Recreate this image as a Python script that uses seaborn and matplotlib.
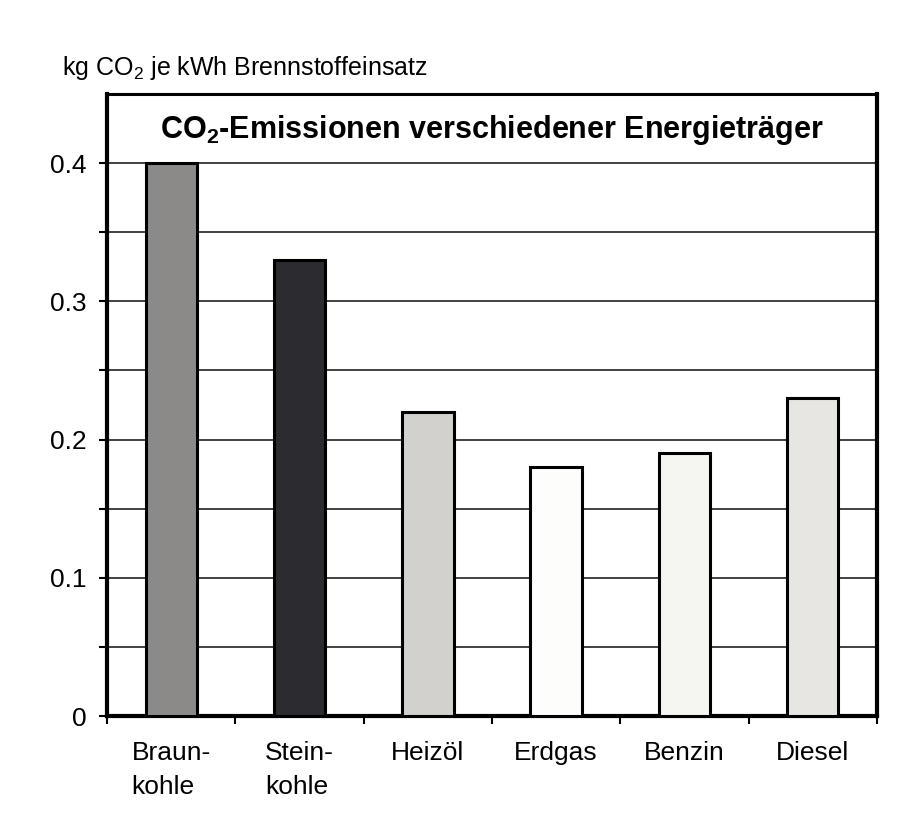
import matplotlib
matplotlib.use("Agg")
import matplotlib.pyplot as plt
import seaborn as sns
import pandas as pd
import numpy as np

categories = ["Braun-\nkohle", "Stein-\nkohle", "Heizöl", "Erdgas", "Benzin", "Diesel"]
values = [0.40, 0.33, 0.22, 0.18, 0.19, 0.23]
bar_colors = ["#8c8a89", "#2b2b30", "#d3d1ce", "#fdfdfc", "#f5f5f2", "#e8e6e3"]
y_ticks = [0, 0.1, 0.2, 0.3, 0.4]
y_tick_labels = ["0", "0.1", "0.2", "0.3", "0.4"]
title = r"CO$_\mathbf{2}$-Emissionen verschiedener Energieträger"
ylabel = r"kg CO$_2$ je kWh Brennstoffeinsatz"

sns.set_theme(style="white")
fam = "Liberation Sans"
plt.rcParams["font.family"] = [fam, "DejaVu Sans"]
plt.rcParams["mathtext.fontset"] = "custom"
plt.rcParams["mathtext.rm"] = fam
plt.rcParams["mathtext.it"] = fam
plt.rcParams["mathtext.bf"] = fam + ":bold"

df = pd.DataFrame({"cat": categories, "val": values})

fig = plt.figure(figsize=(9.1, 8.35), dpi=100)
ax = fig.add_axes([107/910, 1-716/835, (877-107)/910, (716-94)/835])

sns.barplot(data=df, x="cat", y="val", hue="cat", palette=bar_colors, legend=False,
            width=0.4, edgecolor="black", linewidth=2.2, saturation=1, ax=ax, zorder=3)

ax.set_ylim(0, 0.45)
ax.set_xlim(-0.5, len(categories) - 0.5)

ax.set_yticks(np.arange(0, 0.41, 0.05), minor=True)
ax.set_yticks(y_ticks)
ax.set_yticklabels(y_tick_labels, fontsize=19)
ax.yaxis.grid(True, which="both", color="#333333", linewidth=1.3, zorder=0)
ax.set_axisbelow(True)
ax.tick_params(axis="y", which="both", direction="out", length=6, width=1.5, color="black",
               labelcolor="black", left=True, pad=9)

ax.set_xticks(np.arange(-0.5, len(categories), 1.0), minor=True)
ax.tick_params(axis="x", which="minor", direction="out", length=6, width=1.5, color="black", bottom=True)
ax.tick_params(axis="x", which="major", length=0, pad=18, labelsize=19, labelcolor="black")
for lbl in ax.get_xticklabels():
    lbl.set_linespacing(1.5)
    lbl.set_verticalalignment("top")
    lbl.set_multialignment("left")

ax.set_xlabel("")
ax.set_ylabel("")

for side in ["left", "bottom", "right"]:
    ax.spines[side].set_linewidth(3.0)
    ax.spines[side].set_color("black")
ax.spines["top"].set_linewidth(2.2)
ax.spines["top"].set_color("black")

ax.text(0.5, 0.942, title, transform=ax.transAxes, ha="center", va="center",
        fontsize=22, fontweight="bold", color="black", zorder=5)

fig.text(62/910, 1-68/835, ylabel, ha="left", va="center", fontsize=18, color="black")

fig.savefig("out.png", dpi=100, facecolor="white")
